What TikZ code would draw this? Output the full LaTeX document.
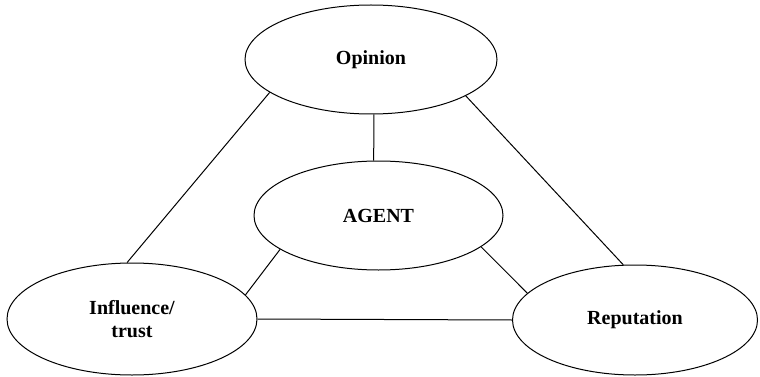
\documentclass[tikz,border=0pt]{standalone}
\usepackage{fontspec}
\setmainfont{Liberation Serif}
\usetikzlibrary{shapes.geometric}
\begin{document}
\begin{tikzpicture}[x=1pt,y=-1pt,
  concept/.style={ellipse, draw, line width=1pt, inner sep=0pt, align=center,
    font=\fontsize{20}{23}\selectfont\bfseries},
  link/.style={line width=1pt}]
\useasboundingbox (0,0) rectangle (760,377);

% the four concepts
\node[concept, minimum width=252pt, minimum height=109pt] (op)  at (371,59.5)  {Opinion};
\node[concept, minimum width=249pt, minimum height=109pt] (ag)  at (378.5,215.5) {AGENT};
\node[concept, minimum width=250pt, minimum height=112pt] (inf) at (132,319)   {Influence/\\trust};
\node[concept, minimum width=245pt, minimum height=110pt] (rep) at (635,320)   {Reputation};

% relations between them
\draw[link] (op.273)  -- (ag.95);
\draw[link] (op.198)  -- (inf.95);
\draw[link] (op.339.5) -- (rep.102);
\draw[link] (ag.199)  -- (inf.12);
\draw[link] (ag.343)  -- (rep.166);
\draw[link] (inf.east) -- (rep.west);
\end{tikzpicture}
\end{document}
